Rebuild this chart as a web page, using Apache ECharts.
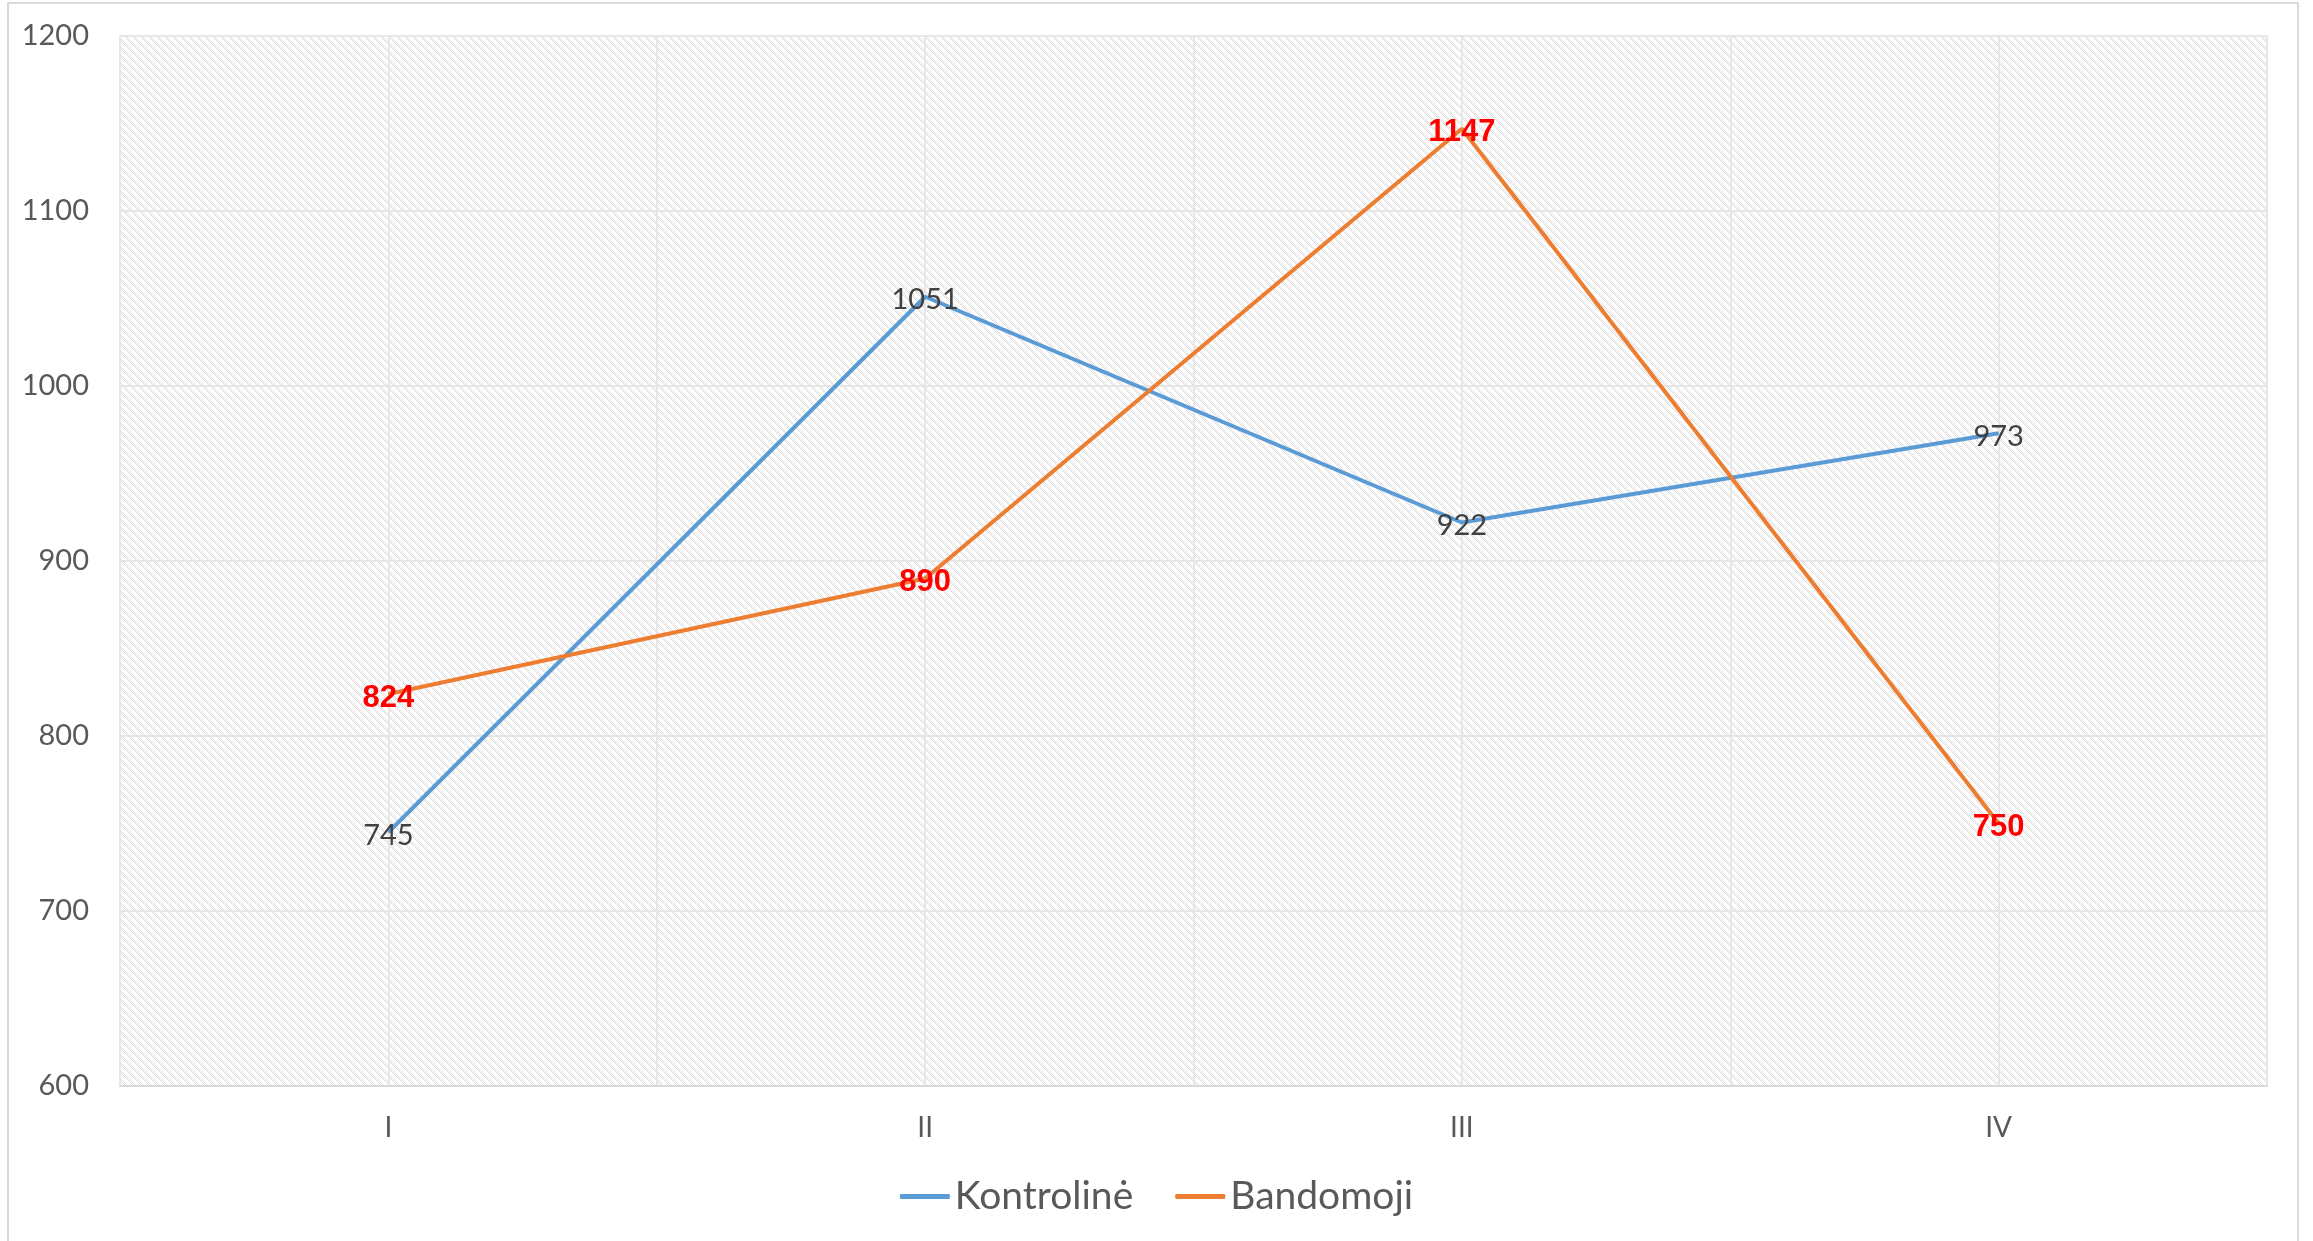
<!DOCTYPE html>
<html>
<head>
<meta charset="utf-8">
<script src="https://cdn.jsdelivr.net/npm/echarts@6/dist/echarts.min.js"></script>
<style>
  html, body { margin: 0; padding: 0; background: #fff; }
  #chart { width: 2313px; height: 1241px; }
</style>
</head>
<body>
<div id="chart"></div>
<script>
var categories = ['I', 'II', 'III', 'IV'];
var kontroline = [745, 1051, 922, 973];
var bandomoji = [824, 890, 1147, 750];
var seriesNames = ['Kontrolinė', 'Bandomoji'];
// half-category lines used for the vertical grid
var halfSteps = ['', '', '', '', '', '', '', ''];

// small tile for the dotted diagonal fill of the plot area
function makePattern() {
  var c = document.createElement('canvas');
  c.width = 8; c.height = 8;
  var ctx = c.getContext('2d');
  ctx.fillStyle = '#ffffff';
  ctx.fillRect(0, 0, 8, 8);
  ctx.fillStyle = '#dedede';
  for (var x = 0; x < 8; x++) {
    for (var y = 0; y < 8; y++) {
      if (((x - y + 16) % 8) < 4 && (x + y) % 2 === 0) ctx.fillRect(x, y, 1, 1);
    }
  }
  return c;
}

const myChart = echarts.init(document.getElementById('chart'));

let option = {
  animation: false,
  backgroundColor: '#ffffff',
  textStyle: { fontFamily: 'Lato' },
  graphic: [{
    type: 'rect',
    shape: { x: 8, y: 3, width: 2290, height: 1260 },
    style: { fill: 'none', stroke: '#d9d9d9', lineWidth: 2 },
    silent: true
  }],
  grid: {
    left: 120,
    right: 46,
    top: 36,
    bottom: 155,
    show: true,
    borderColor: '#e3e3e3',
    borderWidth: 1,
    backgroundColor: { image: makePattern(), repeat: 'repeat' }
  },
  legend: {
    data: seriesNames,
    bottom: 20,
    left: 'center',
    icon: 'roundRect',
    itemWidth: 50,
    itemHeight: 5,
    itemGap: 42,
    textStyle: { fontFamily: 'Lato', fontSize: 39, color: '#595959' }
  },
  xAxis: [{
    type: 'category',
    data: categories,
    boundaryGap: true,
    axisLine: { lineStyle: { color: '#d9d9d9', width: 2 } },
    axisTick: { show: false },
    splitLine: { show: false },
    axisLabel: { fontSize: 28, color: '#595959', margin: 28 }
  }, {
    type: 'category',
    data: halfSteps,
    boundaryGap: true,
    axisLine: { show: false },
    axisTick: { show: false },
    axisLabel: { show: false },
    splitLine: { show: true, interval: 0, lineStyle: { color: '#e6e6e6', width: 2 } }
  }],
  yAxis: {
    type: 'value',
    min: 600,
    max: 1200,
    interval: 100,
    axisLine: { show: false },
    axisTick: { show: false },
    axisLabel: { fontSize: 29, color: '#595959', margin: 31, formatter: function (v) { return String(v); } },
    splitLine: { lineStyle: { color: '#e6e6e6', width: 2 } }
  },
  series: [{
    name: seriesNames[0],
    type: 'line',
    data: kontroline,
    symbol: 'circle',
    symbolSize: 1,
    color: '#5b9bd5',
    lineStyle: { width: 4, color: '#5b9bd5' },
    label: {
      show: true,
      position: 'inside',
      offset: [0, 3],
      fontFamily: 'Lato',
      fontSize: 29,
      color: '#404040'
    }
  }, {
    name: seriesNames[1],
    type: 'line',
    data: bandomoji,
    symbol: 'circle',
    symbolSize: 1,
    color: '#ed7d31',
    lineStyle: { width: 4, color: '#ed7d31' },
    label: {
      show: true,
      position: 'inside',
      offset: [0, 4],
      fontFamily: 'Liberation Sans',
      fontWeight: 'bold',
      fontSize: 31,
      color: '#ff0000'
    }
  }]
};

myChart.setOption(option);
</script>
</body>
</html>
